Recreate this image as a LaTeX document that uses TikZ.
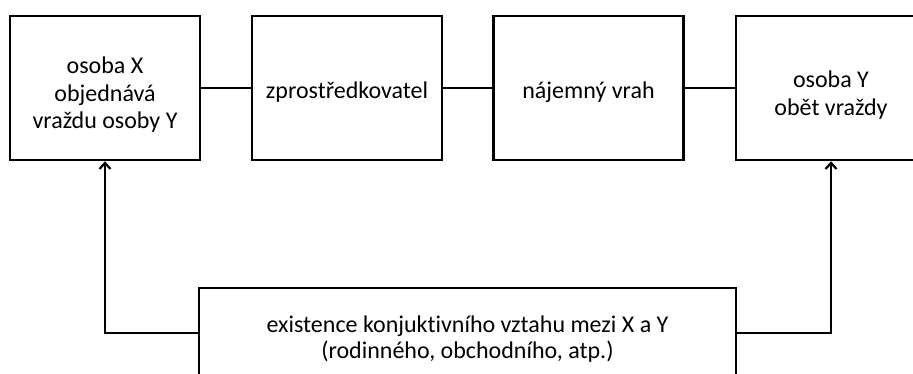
\documentclass[tikz,border=0pt]{standalone}
\usepackage{fontspec}
\setmainfont[Ligatures=NoCommon]{Carlito}
\usetikzlibrary{arrows.meta}
\begin{document}
\begin{tikzpicture}[x=1pt,y=-1pt,
  box/.style={draw=black,line width=2.7pt,minimum width=190pt,minimum height=144pt,inner sep=0pt},
  txt/.style={inner sep=0pt,align=center,font=\fontsize{24}{27.5}\selectfont},
  link/.style={draw=black,line width=2.7pt},
  arr/.style={link,-{Straight Barb[length=6pt,width=11pt,line width=2.2pt]}}]
\useasboundingbox (0,0) rectangle (913,374);
\clip (0,0) rectangle (913,374);
\fill[white] (0,0) rectangle (913,374);
\node[box] (a) at (105,88) {};
\node[box] (b) at (347,88) {};
\node[box] (c) at (588.5,88) {};
\node[box] (d) at (831,88) {};
\node[box,minimum width=537pt,minimum height=90pt] (e) at (467.5,333) {};
\node[txt] (at) at ([yshift=-7pt]a.center) {osoba X\\objednává\\vraždu osoby Y};
\node[txt] (bt) at ([yshift=-4pt]b.center) {zprostředkovatel};
\node[txt] (ct) at ([yshift=-4pt]c.center) {nájemný vrah};
\node[txt] (dt) at ([yshift=-7pt]d.center) {osoba Y\\obět vraždy};
\node[txt,font=\fontsize{24}{25.5}\selectfont] (et) at ([yshift=-6pt]e.center) {existence konjuktivního vztahu mezi X a Y\\(rodinného, obchodního, atp.)};
\draw[link] (a) -- (b);
\draw[link] (b) -- (c);
\draw[link] (c) -- (d);
\draw[arr] (e.west) -| (a.south);
\draw[arr] (e.east) -| (d.south);
\end{tikzpicture}
\end{document}
